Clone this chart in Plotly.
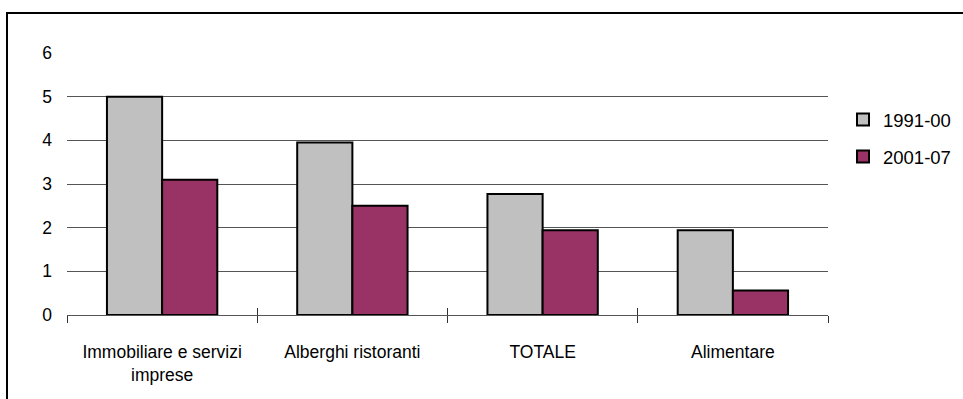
import plotly.graph_objects as go

# Sector growth rates by period
categories = ["Immobiliare e servizi<br>imprese", "Alberghi ristoranti", "TOTALE", "Alimentare"]
series_names = ["1991-00", "2001-07"]
values_1991_00 = [5.0, 3.95, 2.77, 1.94]
values_2001_07 = [3.1, 2.5, 1.94, 0.56]
y_ticks = [0, 1, 2, 3, 4, 5, 6]

FONT = "Liberation Sans Narrow, Arial Narrow, Liberation Sans, Arial, sans-serif"
colors = ["#C0C0C0", "#993366"]

fig = go.Figure()
for name, vals, col in zip(series_names, [values_1991_00, values_2001_07], colors):
    fig.add_trace(go.Bar(
        x=categories, y=vals, name=name, legendgroup=name,
        marker=dict(color=col, line=dict(color="black", width=2)),
    ))

# helper trace on an overlaid axis to draw the inward half of the boundary ticks
fig.add_trace(go.Scatter(x=categories, y=[None] * len(categories), xaxis="x2",
                         showlegend=False, hoverinfo="skip"))

fig.update_layout(
    width=963, height=399,
    margin=dict(l=67, r=135, t=53, b=84, autoexpand=False),
    paper_bgcolor="white", plot_bgcolor="white",
    barmode="group", bargap=0.42, bargroupgap=0,
    font=dict(family=FONT, size=17, color="black"),
    showlegend=True,
    legend=dict(xref="container", yref="container", x=843 / 963, y=1 - 101 / 399,
                xanchor="left", yanchor="top",
                font=dict(family=FONT, size=18.5), tracegroupgap=10,
                bgcolor="rgba(0,0,0,0)", itemwidth=30),
    xaxis=dict(type="category", tickson="boundaries", ticks="outside", ticklen=7,
               tickcolor="#333", tickwidth=1, showgrid=False,
               showline=True, linecolor="#555", linewidth=1,
               ticklabelstandoff=21, tickfont=dict(size=17.5), range=[-0.5, 3.5]),
    xaxis2=dict(type="category", overlaying="x", matches="x", side="bottom",
                tickson="boundaries", ticks="inside", ticklen=7, tickcolor="#333",
                tickwidth=1, showticklabels=False, showgrid=False, showline=False),
    yaxis=dict(range=[0, 6], tickvals=y_ticks, showgrid=True, gridcolor="#555",
               gridwidth=1, zeroline=False, showline=False, ticks="",
               ticklabelstandoff=14, tickfont=dict(size=17.5)),
)

# outer frame of the chart
fig.add_shape(type="rect", xref="paper", yref="paper",
              x0=(7 - 67) / 761, x1=1.5, y0=-1, y1=(315 - 13) / 262,
              line=dict(color="black", width=2), layer="below")

fig.write_html("out.html")
